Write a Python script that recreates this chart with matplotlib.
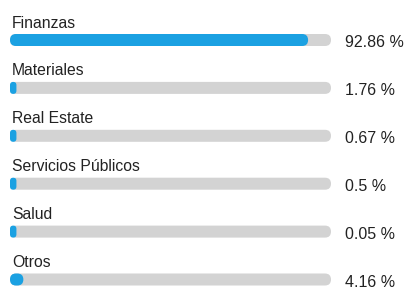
import matplotlib
matplotlib.use("Agg")
import matplotlib.pyplot as plt
import matplotlib.transforms as mtransforms
from matplotlib.patches import FancyBboxPatch

sectores = ["Finanzas", "Materiales", "Real Estate", "Servicios Públicos", "Salud", "Otros"]
porcentajes = [92.86, 1.76, 0.67, 0.5, 0.05, 4.16]
etiquetas = ["92.86 %", "1.76 %", "0.67 %", "0.5 %", "0.05 %", "4.16 %"]

plt.rcParams['font.family'] = ['Liberation Sans', 'DejaVu Sans']

W, H, DPI = 405, 290, 100
fig = plt.figure(figsize=(W / DPI, H / DPI), dpi=DPI)
# axes spans the track area: x 10..331 px, bar centres 40..279.5 px
top, bot = 40, 279.5
ax = fig.add_axes([10 / W, 1 - bot / H, 321 / W, (bot - top) / H])
ax.set_xlim(0, 100)
ax.set_ylim(len(sectores) - 1, 0)
ax.axis('off')

px_x = 321 / 100.0
px_y = (bot - top) / (len(sectores) - 1)
alto = 12 / px_y             # bar height in y units
aspect = px_x / px_y

azul = '#1ba1e2'
gris = '#d3d3d3'

def barra(x0, w, y, color):
    r = min(w / 2, alto / 2 / aspect)
    p = FancyBboxPatch((x0, y - alto / 2), w, alto,
                       boxstyle=f"round,pad=0,rounding_size={r}",
                       mutation_aspect=aspect, fc=color, ec='none',
                       clip_on=False)
    ax.add_patch(p)

lbl_tr = mtransforms.offset_copy(ax.transData, fig=fig, x=2, y=12.5, units='dots')
pct_tr = mtransforms.offset_copy(ax.transData, fig=fig, x=14, y=-7.5, units='dots')

for i, (s, v, e) in enumerate(zip(sectores, porcentajes, etiquetas)):
    barra(0, 100, i, gris)
    barra(0, max(v, 2.0), i, azul)
    ax.text(0, i, s, transform=lbl_tr, fontsize=11.3, color='#222222',
            ha='left', va='baseline', clip_on=False)
    ax.text(100, i, e, transform=pct_tr, fontsize=11.5, color='#222222',
            ha='left', va='baseline', clip_on=False)

fig.savefig('out.png', dpi=DPI)
